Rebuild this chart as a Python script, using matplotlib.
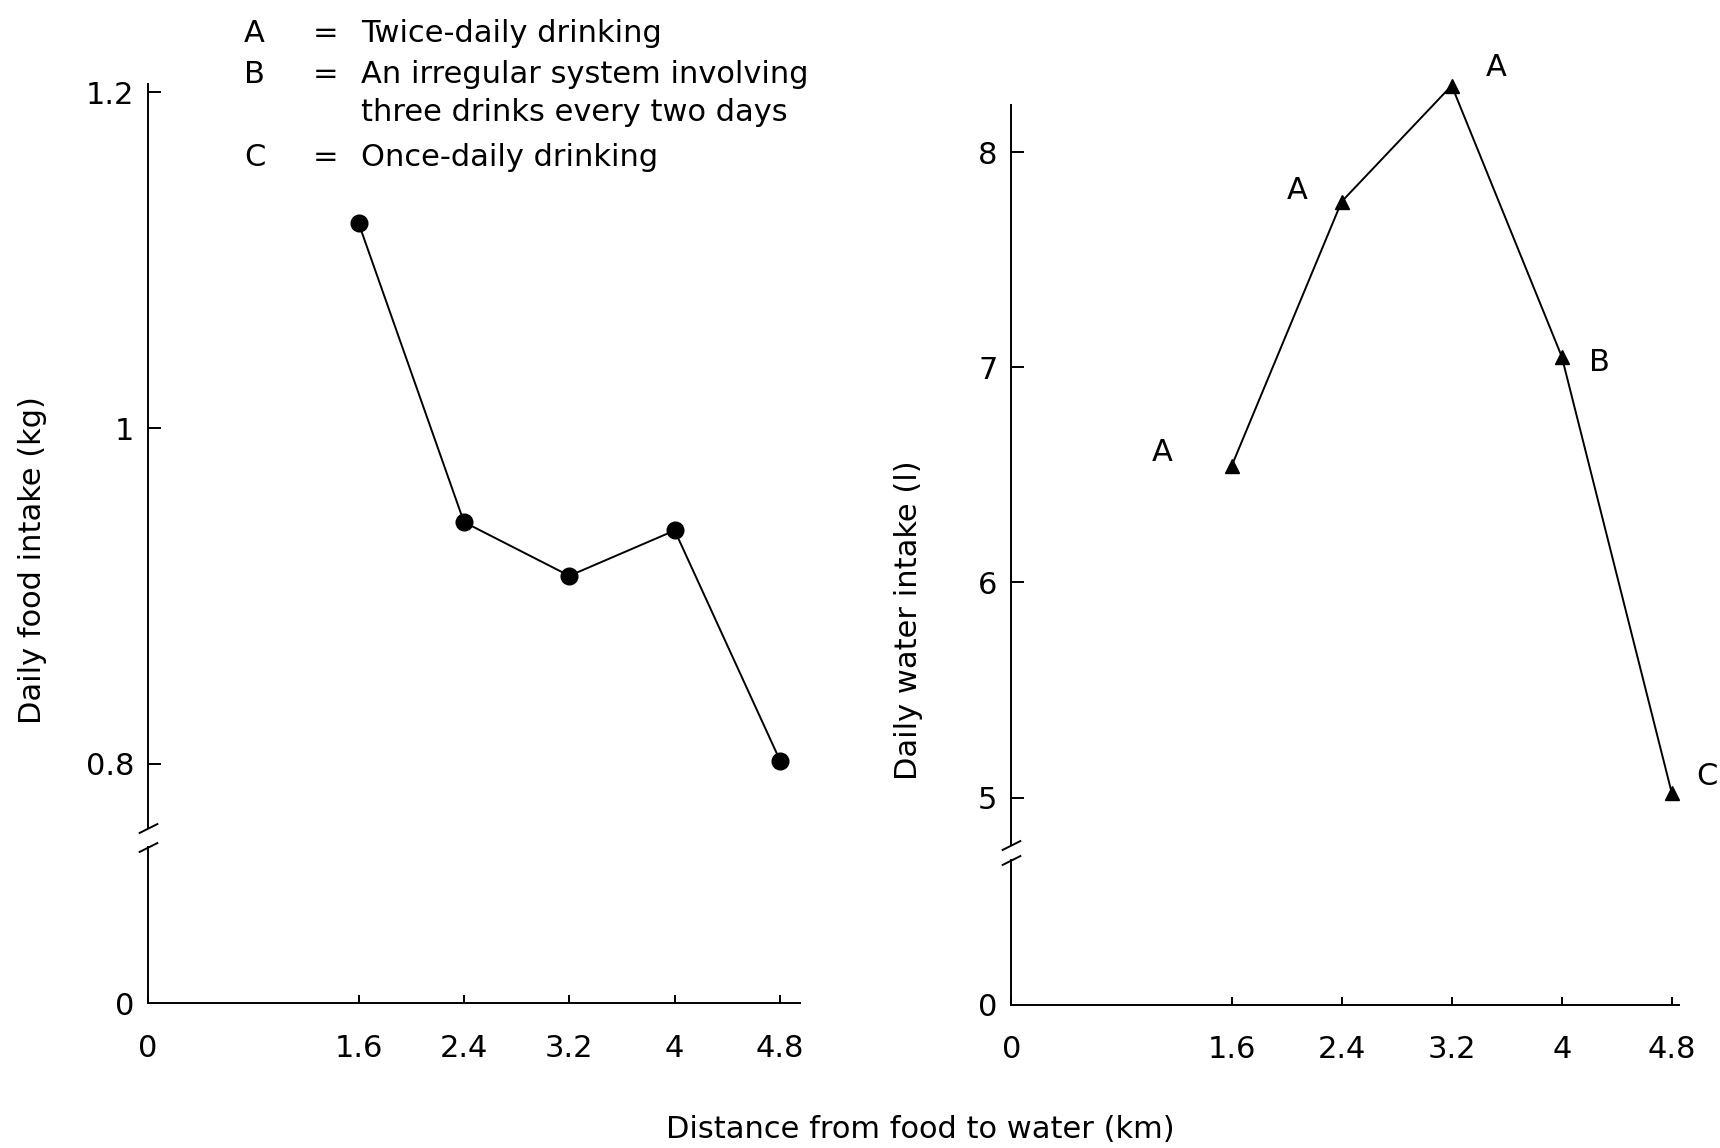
import numpy as np
import matplotlib.pyplot as plt

# data
distance = [1.6, 2.4, 3.2, 4.0, 4.8]
food_intake = [1.122, 0.944, 0.912, 0.939, 0.802]
water_intake = [6.54, 7.77, 8.31, 7.05, 5.02]
water_system = ['A', 'A', 'A', 'B', 'C']

x_ticks = [0, 1.6, 2.4, 3.2, 4.0, 4.8]
x_tick_labels = ['0', '1.6', '2.4', '3.2', '4', '4.8']
food_ticks = [0.8, 1.0, 1.2]
food_tick_labels = ['0.8', '1', '1.2']
water_ticks = [5, 6, 7, 8]
water_tick_labels = ['5', '6', '7', '8']

key_letters = ['A', 'B', '', 'C']
key_signs = ['=', '=', '', '=']
key_texts = ['Twice-daily drinking', 'An irregular system involving',
             'three drinks every two days', 'Once-daily drinking']

# label offsets (points) for the letters next to the water points
label_offsets = [(-50, 10), (-32, 8), (32, 13), (27, -4), (25, 12)]

plt.rcParams['font.family'] = ['DejaVu Sans']
FS = 22

fig = plt.figure(figsize=(17.2, 11.48), dpi=100)


def broken_panel(left, width, top, upper_bottom, lower_top, bottom, ylim, yticks, yticklabels):
    ax_up = fig.add_axes([left, upper_bottom, width, top - upper_bottom])
    ax_lo = fig.add_axes([left, bottom, width, lower_top - bottom], sharex=ax_up)
    for a in (ax_up, ax_lo):
        a.spines['top'].set_visible(False)
        a.spines['right'].set_visible(False)
        for s in a.spines.values():
            s.set_linewidth(1.4)
        a.tick_params(direction='in', length=9, width=1.4, labelsize=FS, pad=10)
    ax_up.spines['bottom'].set_visible(False)
    ax_up.tick_params(axis='x', bottom=False, labelbottom=False)
    ax_up.set_ylim(*ylim)
    ax_up.set_yticks(yticks)
    ax_up.set_yticklabels(yticklabels)

    ax_lo.set_ylim(0, 1)
    ax_lo.set_yticks([0])
    ax_lo.set_yticklabels(['0'])
    ax_lo.set_xlim(0, 4.95)
    ax_lo.set_xticks(x_ticks)
    ax_lo.set_xticklabels(x_tick_labels)
    ax_lo.tick_params(axis='x', length=6, pad=22)
    ax_lo.tick_params(axis='y', length=0)

    # break marks on the y axis
    kw = dict(marker=[(-1, -0.5), (1, 0.5)], markersize=14, linestyle='none',
              color='k', mec='k', mew=1.4, clip_on=False)
    ax_up.plot([0], [0], transform=ax_up.transAxes, **kw)
    ax_lo.plot([0], [1], transform=ax_lo.transAxes, **kw)
    return ax_up, ax_lo


# left panel: food intake
axf, axf_lo = broken_panel(0.086, 0.379, 0.927, 0.279, 0.262, 0.126,
                           (0.762, 1.205), food_ticks, food_tick_labels)
axf.plot(distance, food_intake, color='k', lw=1.4, marker='o', markersize=12)

# right panel: water intake
axw, axw_lo = broken_panel(0.588, 0.396, 0.933, 0.264, 0.251, 0.125,
                           (4.78, 8.35), water_ticks, water_tick_labels)
axw.spines['left'].set_bounds(4.78, 8.22)
axw_lo.spines['bottom'].set_bounds(0, 4.85)
axw.plot(distance, water_intake, color='k', lw=1.4, marker='^', markersize=10)
for xv, yv, lab, off in zip(distance, water_intake, water_system, label_offsets):
    axw.annotate(lab, (xv, yv), xytext=off, textcoords='offset points',
                 ha='center', va='center', fontsize=FS)

# axis titles
fig.text(0.019, 0.512, 'Daily food intake (kg)', rotation=90, ha='center', va='center', fontsize=FS)
fig.text(0.528, 0.46, 'Daily water intake (l)', rotation=90, ha='center', va='center', fontsize=FS)
fig.text(0.535, 0.016, 'Distance from food to water (km)', ha='center', va='center', fontsize=FS)

# key
key_y = [0.971, 0.935, 0.902, 0.863]
for ky, letter, sign, txt in zip(key_y, key_letters, key_signs, key_texts):
    fig.text(0.148, ky, letter, ha='center', va='center', fontsize=FS)
    fig.text(0.189, ky, sign, ha='center', va='center', fontsize=FS)
    fig.text(0.21, ky, txt, ha='left', va='center', fontsize=FS)

fig.savefig('out.png', dpi=100)
